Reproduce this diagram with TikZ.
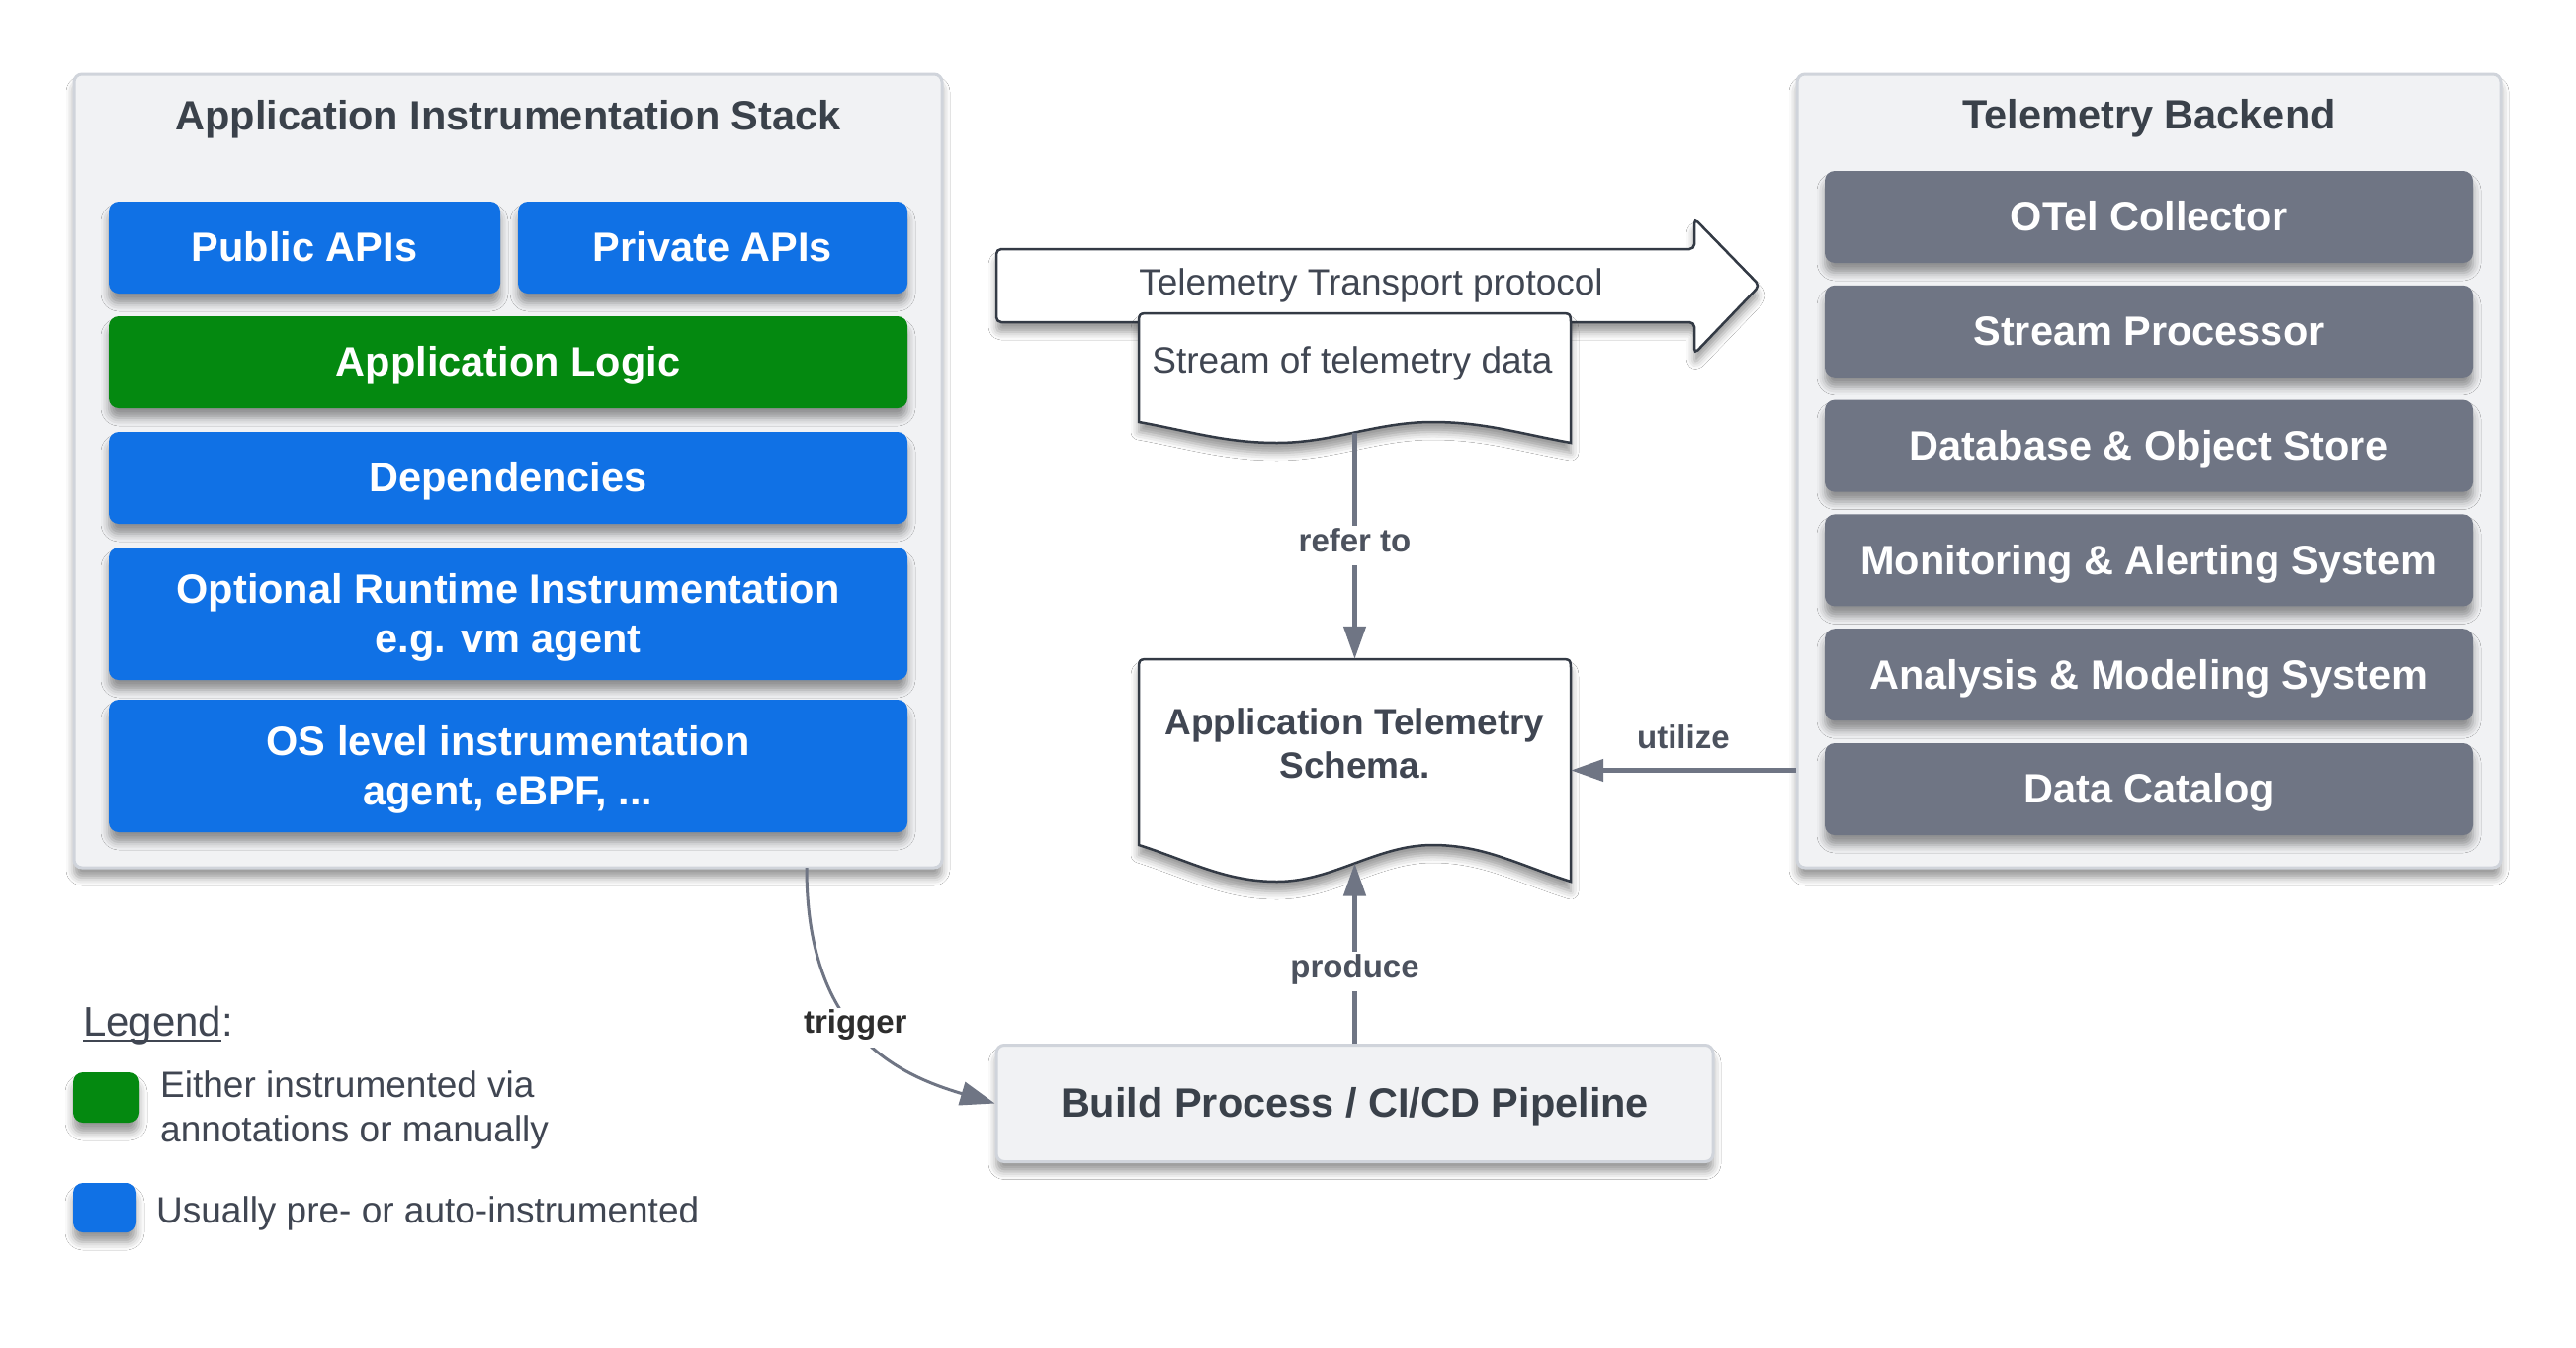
\documentclass[tikz,border=0pt]{standalone}
\usepackage{fontspec}
\setmainfont{Liberation Sans}
\usetikzlibrary{arrows.meta,shadows.blur}
\definecolor{cont}{RGB}{241,242,244}
\definecolor{contb}{RGB}{208,212,219}
\definecolor{blu}{RGB}{16,113,229}
\definecolor{grn}{RGB}{4,137,16}
\definecolor{gry}{RGB}{111,117,132}
\definecolor{ttl}{RGB}{58,65,74}
\definecolor{txt}{RGB}{64,70,82}
\definecolor{lbc}{RGB}{76,82,94}
\definecolor{trc}{RGB}{45,45,45}
\definecolor{dark}{RGB}{51,58,69}
\newcommand\lstrut{\rule[-0.212em]{0pt}{1.117em}}
\newlength\ulw
\newcommand\docshape[6]{%
  \pgfmathsetmacro\dw{#3-#2}%
  \path[#1] (#2,#5) .. controls ({#2+0.12*\dw},{#5+0.45*#6}) and ({#2+0.2*\dw},{#5+#6}) .. ({#2+0.32*\dw},{#5+#6})
    .. controls ({#2+0.45*\dw},{#5+#6}) and ({#2+0.55*\dw},#5) .. ({#2+0.68*\dw},#5)
    .. controls ({#2+0.8*\dw},#5) and ({#2+0.88*\dw},{#5+0.55*#6}) .. (#3,{#5+#6})
    -- (#3,{#4+12}) .. controls (#3,#4) .. ({#3-12},#4) -- ({#2+12},#4) .. controls (#2,#4) .. (#2,{#4+12}) -- cycle;}
\begin{document}
\begin{tikzpicture}[x=1pt,y=-1pt,
  shd/.style={blur shadow={shadow xshift=0pt,shadow yshift=-10pt,shadow blur radius=8pt,shadow opacity=40}},
  container/.style={draw=contb,line width=3pt,fill=cont,rounded corners=8pt,inner sep=0pt,shd},
  titletext/.style={inner sep=0pt,text=ttl,font=\fontsize{41.5}{50}\selectfont\bfseries},
  layer/.style={rounded corners=10pt,inner sep=0pt,text=white,align=center,font=\fontsize{41.5}{50}\selectfont\bfseries,shd},
  bluebox/.style={layer,fill=blu},
  greenbox/.style={layer,fill=grn},
  graybox/.style={layer,fill=gry,minimum width=656,minimum height=93},
  conn/.style={draw=gry,line width=4.5pt,-{Triangle[length=33pt,width=22pt]}},
  trig/.style={draw=gry,line width=3pt,-{Triangle[length=35pt,width=24pt]}},
  lbl/.style={fill=white,inner sep=2pt,text height=24pt,text depth=12pt,text=lbc,font=\fontsize{33}{40}\selectfont\bfseries},
  docsh/.style={fill=white,draw=dark,line width=2.5pt,shd},
  plain/.style={inner sep=0pt,text=txt,font=\fontsize{37}{45}\selectfont},
  legsq/.style={rounded corners=10pt,inner sep=0pt,shd},
]
\fill[white] (0,0) rectangle (2606,1363);
\useasboundingbox (0,0) rectangle (2606,1363);

% Application Instrumentation Stack
\node[container,minimum width=878,minimum height=803] (stack) at (514,476.5) {};
\node[titletext] (stacktitle) at (514,117.6) {\lstrut Application Instrumentation Stack};
\node[bluebox,minimum width=396,minimum height=93] (public) at (308,250.5) {\lstrut Public APIs};
\node[bluebox,minimum width=394,minimum height=93] (private) at (721,250.5) {\lstrut Private APIs};
\node[greenbox,minimum width=808,minimum height=93] (logic) at (514,366.5) {\lstrut Application Logic};
\node[bluebox,minimum width=808,minimum height=93] (deps) at (514,483.5) {\lstrut Dependencies};
\node[bluebox,minimum width=808,minimum height=134] (runtime) at (514,621) {\lstrut Optional Runtime Instrumentation\\\lstrut e.g. vm agent};
\node[bluebox,minimum width=808,minimum height=134] (oslevel) at (514,775) {\lstrut OS level instrumentation\\\lstrut agent, eBPF, ...};

% Telemetry Backend
\node[container,minimum width=712,minimum height=803] (backend) at (2174,476.5) {};
\node[titletext] (backendtitle) at (2174,116.6) {\lstrut Telemetry Backend};
\node[graybox] (otel) at (2174,219.5) {\lstrut OTel Collector};
\node[graybox] (streamproc) at (2174,335.3) {\lstrut Stream Processor};
\node[graybox] (db) at (2174,451.1) {\lstrut Database \& Object Store};
\node[graybox] (monitor) at (2174,566.9) {\lstrut Monitoring \& Alerting System};
\node[graybox] (analysis) at (2174,682.7) {\lstrut Analysis \& Modeling System};
\node[graybox] (catalog) at (2174,798.5) {\lstrut Data Catalog};

% Transport block arrow
\path[docsh,rounded corners=5pt] (1008,252) -- (1714,252) -- (1714,221) -- (1780,289) -- (1714,358) -- (1714,326) -- (1008,326) -- cycle;
\node[plain] (transport) at (1387,285.2) {\lstrut Telemetry Transport protocol};

% Stream document
\node[inner sep=0pt,minimum width=437,minimum height=131] (stream) at (1370.5,382.5) {};
\docshape{docsh}{1152}{1589}{317}{427}{21}
\node[plain] (streamtext) at (1368,365) {\lstrut Stream of telemetry data};
\coordinate (streamwave) at (1370.5,437.5);

% Schema document
\node[inner sep=0pt,minimum width=437,minimum height=225] (schema) at (1370.5,779.5) {};
\docshape{docsh}{1152}{1589}{667}{855}{37}
\node[plain,align=center,font=\fontsize{37}{44}\selectfont\bfseries] (schematext) at (1370.5,753) {\lstrut Application Telemetry\\\lstrut Schema.};
\coordinate (schemawave) at (1370.5,873.5);

% Build
\node[container,minimum width=725,minimum height=118,text=ttl,font=\fontsize{41.5}{50}\selectfont\bfseries] (build) at (1370.5,1116.5) {\lstrut Build Process / CI/CD Pipeline};

% Connectors
\draw[conn] (streamwave) -- node[lbl,pos=0.5] {refer to} (schema.north);
\draw[conn] (build.north) -- node[lbl,pos=0.4] {produce} (schemawave);
\draw[conn] (backend.west |- schema.center) -- node[lbl,above=6pt] {utilize} (schema.east);
\coordinate (trigstart) at (816,878);
\draw[trig] (trigstart) .. controls (816,1040) and (900,1085) .. node[lbl,pos=0.47,text=trc] {trigger} (build.west);

% Legend
\node[anchor=base west,inner sep=0pt,text=txt,font=\fontsize{42}{50}\selectfont] (legend) at (84,1048) {\settowidth{\ulw}{Legend}\rlap{\rule[-6pt]{\ulw}{2.5pt}}Legend:};
\node[legsq,fill=grn,minimum width=67,minimum height=51] (leggreen) at (107.5,1110.5) {};
\node[plain,align=left,anchor=north west] (legtext1) at (162,1076.5) {\lstrut Either instrumented via\\\lstrut annotations or manually};
\node[legsq,fill=blu,minimum width=64,minimum height=50] (legblue) at (106,1222) {};
\node[plain,anchor=base west] (legtext2) at (158,1237) {\lstrut Usually pre- or auto-instrumented};
\end{tikzpicture}
\end{document}
